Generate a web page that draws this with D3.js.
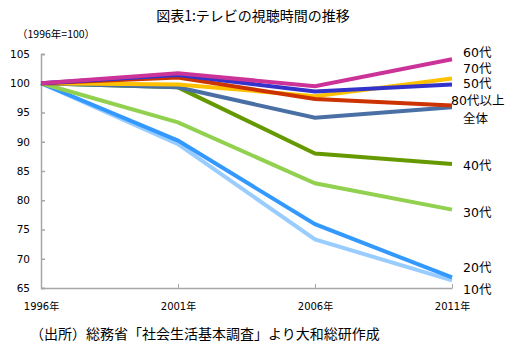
<!DOCTYPE html>
<html>
<head>
<meta charset="utf-8">
<script src="https://cdn.jsdelivr.net/npm/d3@7"></script>
<style>
  body { margin: 0; background: #fff; }
  svg { font-family: "Noto Sans CJK JP", "DejaVu Sans", sans-serif; }
</style>
</head>
<body>
<div id="chart"></div>
<script>
// Data
const years = ['1996年', '2001年', '2006年', '2011年'];
const yTicks = [65, 70, 75, 80, 85, 90, 95, 100, 105];
const seriesNames = ['全体', '10代', '20代', '30代', '40代', '50代', '60代', '70代', '80代以上'];
const values = {
  '全体':     [100, 99.3, 94.1, 95.9],
  '10代':     [100, 89.6, 73.3, 66.3],
  '20代':     [100, 90.2, 75.9, 66.8],
  '30代':     [100, 93.3, 82.9, 78.4],
  '40代':     [100, 99.3, 88.0, 86.2],
  '50代':     [100, 101.4, 98.6, 99.8],
  '60代':     [100, 101.7, 99.5, 104.1],
  '70代':     [100, 99.8, 97.8, 100.8],
  '80代以上': [100, 101.0, 97.3, 96.2]
};
const colors = {
  '全体': '#4A6FA5', '10代': '#99CCFF', '20代': '#3399FF', '30代': '#92D050',
  '40代': '#669900', '50代': '#3333CC', '60代': '#CC3399', '70代': '#FFC000',
  '80代以上': '#CC3300'
};
// draw order (back to front)
const drawOrder = ['10代', '20代', '30代', '40代', '全体', '70代', '80代以上', '50代', '60代'];
// label y positions (px) next to the line ends
const labelY = {
  '60代': 52, '70代': 68, '50代': 83, '80代以上': 100, '全体': 118,
  '40代': 165, '30代': 212, '20代': 267, '10代': 289
};

const width = 519, height = 351;
const margin = { top: 54, right: 67, bottom: 63, left: 41 };

const svg = d3.select('#chart').append('svg')
  .attr('width', width)
  .attr('height', height);

const x = d3.scalePoint()
  .domain(years)
  .range([margin.left, width - margin.right]);

const y = d3.scaleLinear()
  .domain([65, 105])
  .range([height - margin.bottom, margin.top]);

// Title
svg.append('text')
  .attr('x', 253).attr('y', 21)
  .attr('text-anchor', 'middle')
  .attr('font-size', 14)
  .attr('fill', '#000')
  .text('図表1:テレビの視聴時間の推移');

svg.append('text')
  .attr('x', 17).attr('y', 38)
  .attr('font-size', 10.5)
  .text('（1996年=100）');

// Y axis
const yAxis = d3.axisRight(y).tickValues(yTicks).tickSize(4).tickFormat(d3.format('d'));
const gy = svg.append('g')
  .attr('transform', `translate(${margin.left},0)`)
  .call(yAxis);
gy.select('.domain').attr('stroke', '#a6a6a6').attr('stroke-width', 1.5);
gy.selectAll('.tick line').attr('stroke', '#a6a6a6').attr('stroke-width', 1.5);
gy.selectAll('.tick text')
  .attr('x', -11)
  .attr('text-anchor', 'end')
  .attr('font-family', '"DejaVu Sans", sans-serif')
  .attr('font-size', 10.5)
  .attr('fill', '#000');

// X axis
const xAxis = d3.axisTop(x).tickSize(4).tickSizeOuter(0);
const gx = svg.append('g')
  .attr('transform', `translate(0,${height - margin.bottom})`)
  .call(xAxis);
gx.select('.domain').attr('stroke', '#a6a6a6').attr('stroke-width', 1.5);
gx.selectAll('.tick line').attr('stroke', '#a6a6a6').attr('stroke-width', 1);
gx.selectAll('.tick').filter(d => d === years[0]).select('line').remove();
gx.selectAll('.tick text')
  .attr('y', 22)
  .attr('font-family', '"DejaVu Sans", "Noto Sans CJK JP", sans-serif')
  .attr('font-size', 10)
  .attr('fill', '#000');

// Lines
const line = d3.line()
  .x((d, i) => x(years[i]))
  .y(d => y(d));

svg.append('g').selectAll('path')
  .data(drawOrder)
  .join('path')
  .attr('d', name => line(values[name]))
  .attr('fill', 'none')
  .attr('stroke', name => colors[name])
  .attr('stroke-width', 4)
  .attr('stroke-linejoin', 'miter');

// Series labels
svg.append('g').selectAll('text')
  .data(seriesNames)
  .join('text')
  .attr('x', name => name === '80代以上' ? 451 : 463)
  .attr('y', name => labelY[name] + 5)
  .attr('font-family', '"DejaVu Sans", "Noto Sans CJK JP", sans-serif')
  .attr('font-size', 12.5)
  .attr('fill', '#000')
  .text(name => name);

// Source
svg.append('text')
  .attr('x', 30).attr('y', 339)
  .attr('font-size', 14)
  .text('（出所）総務省「社会生活基本調査」より大和総研作成');
</script>
</body>
</html>
